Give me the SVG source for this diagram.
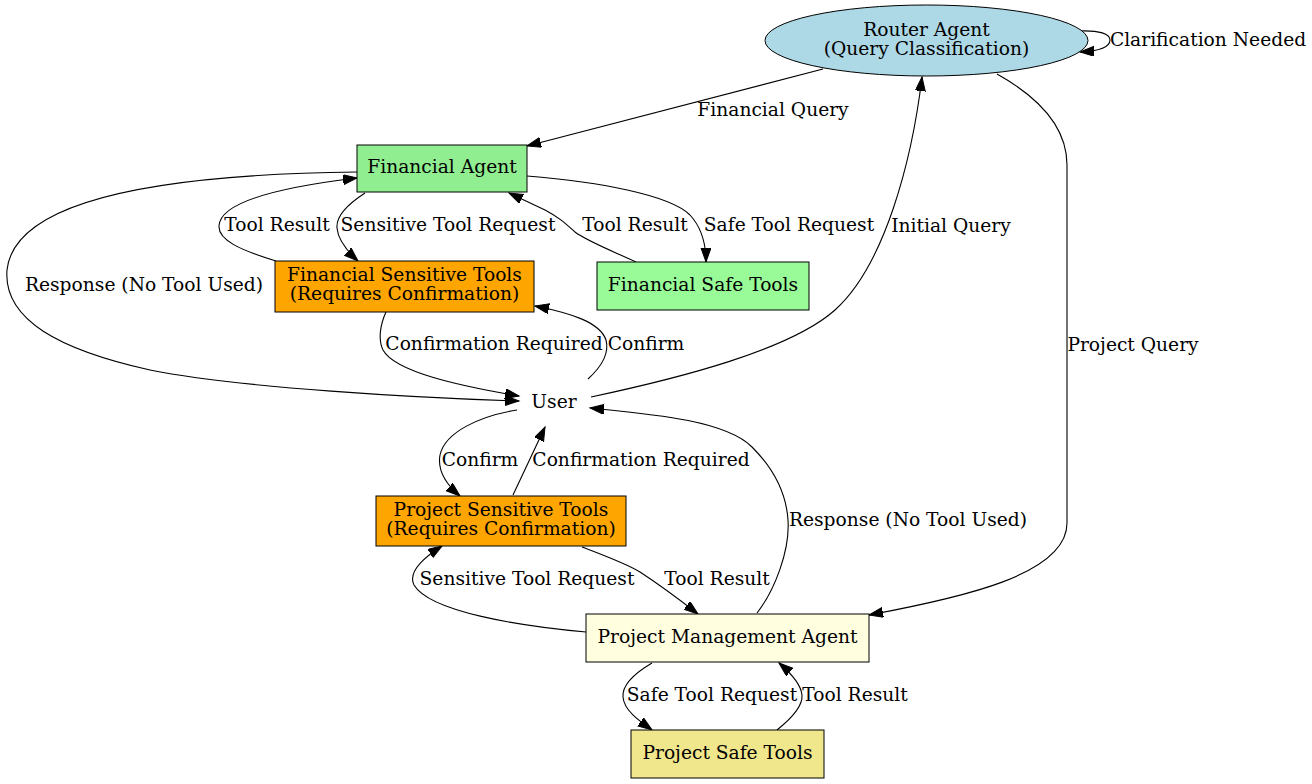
<svg xmlns="http://www.w3.org/2000/svg" width="1312" height="784" viewBox="0 0 1312 784">
<style>
text{font-family:"DejaVu Serif","Liberation Serif",serif;font-size:18.67px;fill:#000;text-anchor:middle}
.n{stroke:#000;stroke-width:1}
.e path{fill:none;stroke:#000;stroke-width:1.1;marker-end:url(#ah)}
</style>
<defs>
<marker id="ah" markerUnits="userSpaceOnUse" markerWidth="16" markerHeight="12" refX="14" refY="5" orient="auto" viewBox="0 0 16 12">
<path d="M0,0 L14,5 L0,10 z" fill="#000" stroke="#000" stroke-width="1"/>
</marker>
</defs>
<rect width="1312" height="784" fill="#fff"/>
<g id="connectors" class="e">
<path d="M823,69 L527,146"/>
<path d="M997,74 C1040,98 1067,128 1067,165 L1067,523 C1067,575 960,598 869,615"/>
<path d="M1078,31 C1100,30 1110,34 1110,40 C1110,47 1100,51 1080,52"/>
<path d="M591,397 C680,378 790,350 835,310 C885,265 912,160 922,77"/>
<path d="M357,172 C180,174 15,195 7,270 C3,320 60,350 150,370 C240,388 420,398 519,401"/>
<path d="M365,193 C345,206 336,218 337,228 C338,240 346,250 358,261"/>
<path d="M276,261 C240,250 218,240 219,226 C220,200 290,186 357,178"/>
<path d="M527,176 C600,182 670,195 690,215 C702,228 706,245 706,262"/>
<path d="M636,262 C610,250 585,240 575,232 C565,223 560,218 545,210 L509,193"/>
<path d="M386,312 C380,325 378,340 383,350 C395,372 460,386 519,396"/>
<path d="M588,379 C600,368 610,355 606,340 C600,322 570,313 535,306"/>
<path d="M517,410 C480,416 445,432 440,455 C437,472 447,485 460,496"/>
<path d="M513,495 L545,427"/>
<path d="M757,613 C775,590 790,550 788,520 C786,490 770,465 752,447 C725,420 650,414 590,408"/>
<path d="M586,632 C520,626 430,612 414,585 C408,573 420,560 442,546"/>
<path d="M582,547 C600,554 625,563 640,572 C660,585 680,600 698,614"/>
<path d="M652,663 C635,673 622,685 623,697 C624,710 638,720 652,730"/>
<path d="M777,730 C792,718 803,706 802,695 C801,685 793,675 779,663"/>
</g>
<g id="edge-labels">
<text x="773" y="116">Financial Query</text>
<text x="1133" y="351">Project Query</text>
<text x="1208" y="46">Clarification Needed</text>
<text x="951" y="232">Initial Query</text>
<text x="144" y="291">Response (No Tool Used)</text>
<text x="448" y="231">Sensitive Tool Request</text>
<text x="277" y="231">Tool Result</text>
<text x="789" y="231">Safe Tool Request</text>
<text x="635" y="231">Tool Result</text>
<text x="494" y="350">Confirmation Required</text>
<text x="646" y="350">Confirm</text>
<text x="480" y="466">Confirm</text>
<text x="641" y="466">Confirmation Required</text>
<text x="908" y="526">Response (No Tool Used)</text>
<text x="527" y="585">Sensitive Tool Request</text>
<text x="717" y="585">Tool Result</text>
<text x="712" y="701">Safe Tool Request</text>
<text x="855" y="701">Tool Result</text>
</g>
<g id="router">
<ellipse class="n" cx="926.5" cy="40.5" rx="161.5" ry="35.5" fill="#add8e6"/>
<text x="926.5" y="36">Router Agent</text>
<text x="926.5" y="55">(Query Classification)</text>
</g>
<g id="financial-agent">
<rect class="n" x="357" y="145" width="170" height="47" fill="#90ee90"/>
<text x="442" y="173">Financial Agent</text>
</g>
<g id="financial-sensitive-tools">
<rect class="n" x="275" y="261" width="259" height="51" fill="#ffa500"/>
<text x="404.5" y="281">Financial Sensitive Tools</text>
<text x="404.5" y="300">(Requires Confirmation)</text>
</g>
<g id="financial-safe-tools">
<rect class="n" x="597" y="262" width="212" height="48" fill="#98fb98"/>
<text x="703" y="291">Financial Safe Tools</text>
</g>
<g id="user">
<text x="554" y="408">User</text>
</g>
<g id="project-sensitive-tools">
<rect class="n" x="376" y="496" width="250" height="50" fill="#ffa500"/>
<text x="501" y="516">Project Sensitive Tools</text>
<text x="501" y="535">(Requires Confirmation)</text>
</g>
<g id="project-management-agent">
<rect class="n" x="586" y="614" width="283" height="48" fill="#ffffe0"/>
<text x="727.5" y="643">Project Management Agent</text>
</g>
<g id="project-safe-tools">
<rect class="n" x="631" y="730" width="193" height="48" fill="#f0e68c"/>
<text x="727.5" y="759">Project Safe Tools</text>
</g>
</svg>
